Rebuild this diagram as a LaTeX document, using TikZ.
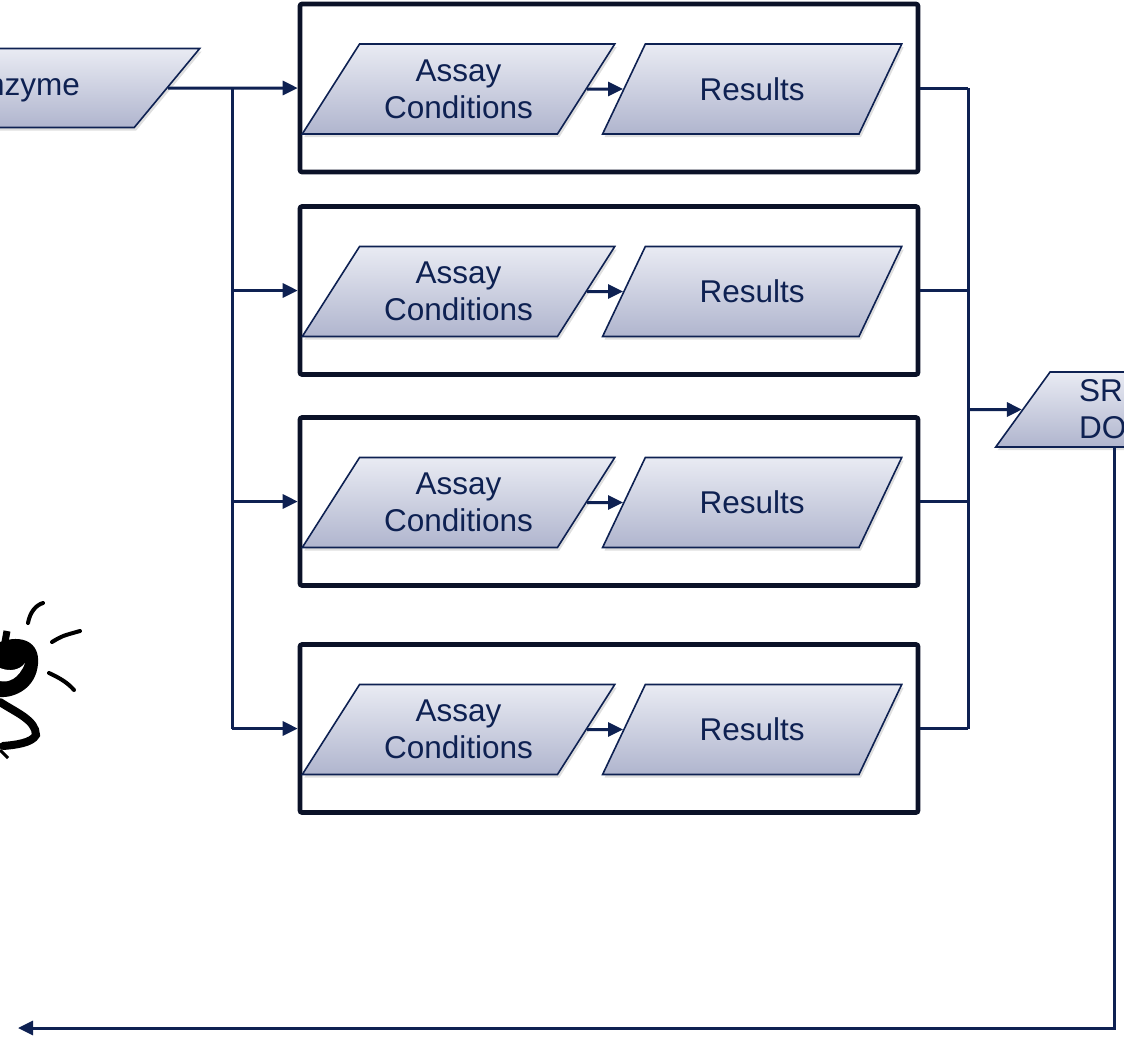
\documentclass[tikz,border=0pt]{standalone}
\usepackage{fontspec}
\setmainfont{Liberation Sans}
\usetikzlibrary{shapes.geometric, positioning, arrows.meta, shadows}

\definecolor{navy}{HTML}{0E2152}
\definecolor{ink}{HTML}{0B1228}
\definecolor{paletop}{HTML}{E9EBF3}
\definecolor{palebot}{HTML}{B0B5CE}

\begin{document}
\begin{tikzpicture}[
        x=0.5pt, y=-0.5pt,
        panel/.style = {draw=ink, line width=2.3pt, rounded corners=1pt, minimum width=309pt, minimum height=84pt, inner sep=0pt},
        io/.style = {trapezium, trapezium left angle=57, trapezium right angle=123, trapezium stretches=true, draw=navy, line width=0.8pt, top color=paletop, bottom color=palebot, minimum height=45pt, text=navy, align=center, font=\fontsize{15.75}{18.5}\selectfont, drop shadow={shadow xshift=1pt, shadow yshift=-1.5pt, opacity=0.25}},
        link/.style = {draw=navy, line width=1.5pt},
        arrow/.style = {link, -{Triangle[length=7.5pt, width=7pt]}}
        ]
    \clip (0,0) rectangle (1124,1046);

        % Rahmen
        \node[panel] (box1) at (609,88) {};
        \node[panel] (box2) at (609,290.5) {};
        \node[panel] (box3) at (609,501.5) {};
        \node[panel] (box4) at (609,728.5) {};

        % Knoten
        \node[io, minimum width=177pt, minimum height=39.5pt, trapezium left angle=48, trapezium right angle=132] (enz) at (23,88) {Enzyme};
        \node[io, minimum width=119pt, minimum height=37.5pt, trapezium left angle=64, trapezium right angle=116] (sr) at (1114,409.5) {SRM\\DOC};

        \node[io, minimum width=156.5pt] (ac1) at (458.5,89) {Assay\\Conditions};
        \node[io, minimum width=150.5pt, right=18pt of ac1] (res1) {Results};
        \node[io, minimum width=156.5pt] (ac2) at (458.5,291.5) {Assay\\Conditions};
        \node[io, minimum width=150.5pt, right=18pt of ac2] (res2) {Results};
        \node[io, minimum width=156.5pt] (ac3) at (458.5,502.5) {Assay\\Conditions};
        \node[io, minimum width=150.5pt, right=18pt of ac3] (res3) {Results};
        \node[io, minimum width=156.5pt] (ac4) at (458.5,729.5) {Assay\\Conditions};
        \node[io, minimum width=150.5pt, right=18pt of ac4] (res4) {Results};

        \coordinate (fork) at (232,88);
        \coordinate (join) at (968,88);
        \coordinate (back) at (18,1028);

        % Pfeile
        \draw[arrow] (enz) -- (box1);
        \draw[link] (fork) -- (fork |- box4);
        \draw[arrow] (fork |- box2) -- (box2);
        \draw[arrow] (fork |- box3) -- (box3);
        \draw[arrow] (fork |- box4) -- (box4);

        \draw[arrow] (ac1) -- (res1);
        \draw[arrow] (ac2) -- (res2);
        \draw[arrow] (ac3) -- (res3);
        \draw[arrow] (ac4) -- (res4);

        \draw[link] (box1.east) -- (join);
        \draw[link] (box2.east) -- (box2.east -| join);
        \draw[link] (box3.east) -- (box3.east -| join);
        \draw[link] (box4.east) -- (box4.east -| join);
        \draw[link] (join) -- (join |- box4);
        \draw[arrow] (join |- sr) -- (sr);

        \draw[arrow] (sr.south) |- (back);

        % Figur
        \fill[black] (0,642) .. controls (22,634) and (40,642) .. (38,664) .. controls (36,688) and (15,698) .. (0,697) -- cycle;
        \fill[white] (0,668) .. controls (10,672) and (20,670) .. (25,663) .. controls (19,679) and (8,683) .. (0,681) -- cycle;
        \draw[black, line width=3.5pt] (1,664) -- (7,631);
        \draw[black, line width=4pt, line cap=round] (0,702) .. controls (15,712) and (36,720) .. (36,735) .. controls (32,743) and (15,745) .. (3,746);
        \draw[black, line width=1.5pt] (0,750) -- (8,758);
        \draw[black, line width=2pt, line cap=round] (28,623) .. controls (30,612) and (36,605) .. (43,603);
        \draw[black, line width=2pt, line cap=round] (52,642) .. controls (62,636) .. (80,631);
        \draw[black, line width=2pt, line cap=round] (49,673) .. controls (60,678) and (68,683) .. (74,690);

    \end{tikzpicture}
\end{document}
